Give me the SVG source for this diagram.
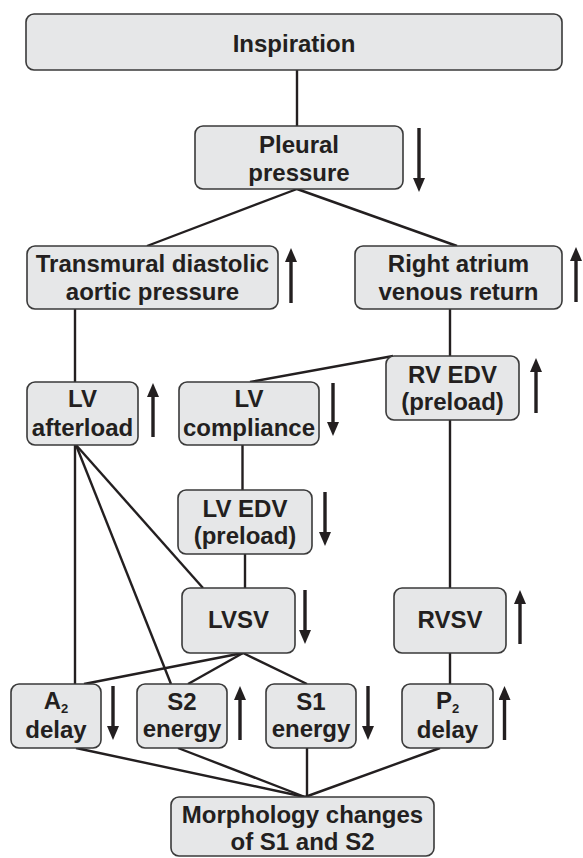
<svg xmlns="http://www.w3.org/2000/svg" width="583" height="858" viewBox="0 0 583 858">
<defs>
<style>
.box{fill:#e6e7e8;stroke:#3a3a3a;stroke-width:1.6}
.t{font-family:"Liberation Sans",Arial,sans-serif;font-weight:bold;font-size:24px;fill:#231f20;text-anchor:middle}
.sub{font-size:13px}
.c{stroke:#231f20;stroke-width:2.4;fill:none}
.ar{stroke:#231f20;stroke-width:3.4;fill:none;marker-end:url(#head)}
</style>
<marker id="head" viewBox="0 0 14 12" refX="2" refY="6" markerWidth="14" markerHeight="12" markerUnits="userSpaceOnUse" orient="auto">
<path d="M0,0 L14,6 L0,12 z" fill="#231f20"/>
</marker>
</defs>
<rect width="583" height="858" fill="#ffffff"/>
<g id="connectors">
<path class="c" d="M297,70 V126"/>
<path class="c" d="M297,189 L147,246"/>
<path class="c" d="M297,189 L457,246"/>
<path class="c" d="M75,309 V382"/>
<path class="c" d="M450,309 V356"/>
<path class="c" d="M393,356 L250,382"/>
<path class="c" d="M242.5,445 V490"/>
<path class="c" d="M245,554 V588"/>
<path class="c" d="M450,420 V588"/>
<path class="c" d="M75,445 V684"/>
<path class="c" d="M76,445 L171,684"/>
<path class="c" d="M76,445 L203,588"/>
<path class="c" d="M243,653 L84,684"/>
<path class="c" d="M243,653 L188,684"/>
<path class="c" d="M243,653 L307,684"/>
<path class="c" d="M450,653 V684"/>
<path class="c" d="M76,748 L305,797"/>
<path class="c" d="M178,748 L305,797"/>
<path class="c" d="M307,748 V797"/>
<path class="c" d="M440,748 L305,797"/>
</g>
<g id="inspiration">
<rect class="box" x="26" y="14" width="536" height="56" rx="8"/>
<text class="t" x="294" y="52">Inspiration</text>
</g>
<g id="pleural">
<rect class="box" x="195" y="126" width="208" height="63" rx="8"/>
<text class="t" x="299" y="153">Pleural</text>
<text class="t" x="299" y="181">pressure</text>
<path class="ar" d="M419,128 V180"/>
</g>
<g id="transmural">
<rect class="box" x="27" y="246" width="251" height="63" rx="8"/>
<text class="t" x="152.5" y="272">Transmural diastolic</text>
<text class="t" x="152.5" y="300">aortic pressure</text>
<path class="ar" d="M291,303 V260"/>
</g>
<g id="rightatrium">
<rect class="box" x="355" y="246" width="207" height="63" rx="8"/>
<text class="t" x="458.5" y="272">Right atrium</text>
<text class="t" x="458.5" y="300">venous return</text>
<path class="ar" d="M576,302 V259"/>
</g>
<g id="lvafterload">
<rect class="box" x="27" y="382" width="111" height="63" rx="8"/>
<text class="t" x="82.5" y="407">LV</text>
<text class="t" x="82.5" y="436">afterload</text>
<path class="ar" d="M153,437 V395"/>
</g>
<g id="lvcompliance">
<rect class="box" x="179" y="382" width="140" height="63" rx="8"/>
<text class="t" x="249" y="407">LV</text>
<text class="t" x="249" y="436">compliance</text>
<path class="ar" d="M333,383 V424"/>
</g>
<g id="rvedv">
<rect class="box" x="386" y="356" width="133" height="64" rx="8"/>
<text class="t" x="452.5" y="383">RV EDV</text>
<text class="t" x="452.5" y="410">(preload)</text>
<path class="ar" d="M536,413 V370"/>
</g>
<g id="lvedv">
<rect class="box" x="178" y="490" width="134" height="64" rx="8"/>
<text class="t" x="245" y="517">LV EDV</text>
<text class="t" x="245" y="544">(preload)</text>
<path class="ar" d="M325,492 V534"/>
</g>
<g id="lvsv">
<rect class="box" x="182" y="588" width="113" height="65" rx="8"/>
<text class="t" x="238.5" y="628">LVSV</text>
<path class="ar" d="M305,590 V632"/>
</g>
<g id="rvsv">
<rect class="box" x="394" y="588" width="112" height="65" rx="8"/>
<text class="t" x="450" y="628">RVSV</text>
<path class="ar" d="M520,644 V602"/>
</g>
<g id="a2delay">
<rect class="box" x="11" y="684" width="90" height="64" rx="8"/>
<text class="t" x="56" y="709">A<tspan class="sub" dy="4">2</tspan></text>
<text class="t" x="56" y="738">delay</text>
<path class="ar" d="M113,686 V728"/>
</g>
<g id="s2energy">
<rect class="box" x="137" y="684" width="90" height="64" rx="8"/>
<text class="t" x="182" y="710">S2</text>
<text class="t" x="182" y="737">energy</text>
<path class="ar" d="M240,740 V698"/>
</g>
<g id="s1energy">
<rect class="box" x="266" y="684" width="90" height="64" rx="8"/>
<text class="t" x="311" y="710">S1</text>
<text class="t" x="311" y="737">energy</text>
<path class="ar" d="M368,686 V728"/>
</g>
<g id="p2delay">
<rect class="box" x="402" y="684" width="91" height="64" rx="8"/>
<text class="t" x="447.5" y="709">P<tspan class="sub" dy="4">2</tspan></text>
<text class="t" x="447.5" y="738">delay</text>
<path class="ar" d="M504.5,740 V698"/>
</g>
<g id="morphology">
<rect class="box" x="171" y="797" width="263" height="59" rx="8"/>
<text class="t" x="302.5" y="823">Morphology changes</text>
<text class="t" x="302.5" y="850">of S1 and S2</text>
</g>
</svg>
